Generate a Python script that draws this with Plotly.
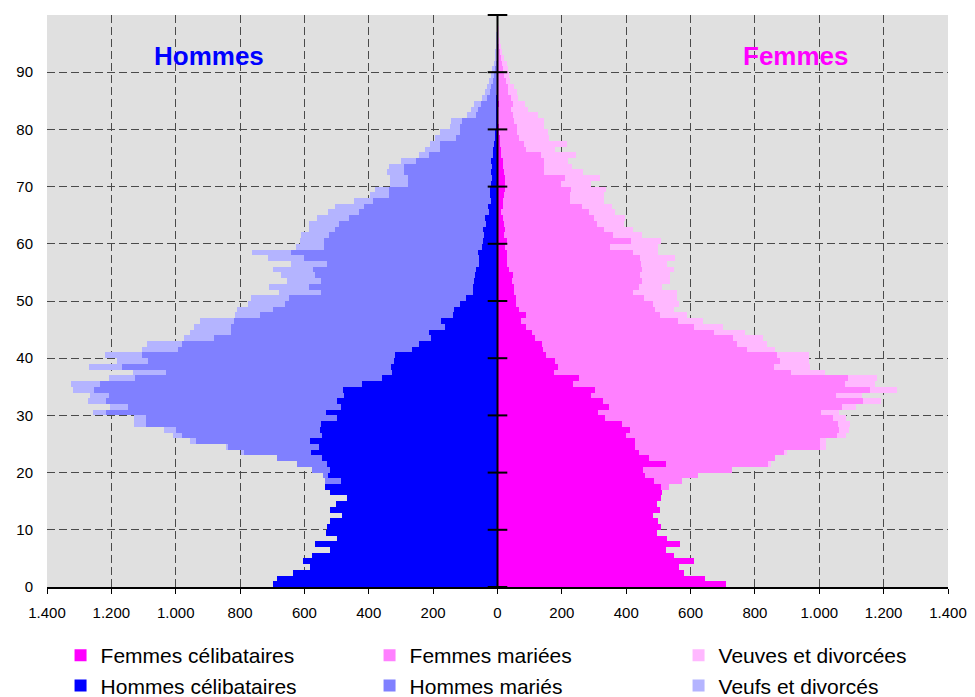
import plotly.graph_objects as go

AGES = list(range(100))

# Hommes (valeurs positives, tracées vers la gauche)
HOMMES_CELIB = [
    699, 686, 634, 584, 606, 578, 519, 568, 500, 534, 531, 522, 484, 522, 503, 469, 519, 537,
    487, 526, 520, 529, 544, 581, 556, 584, 544, 553, 550, 500, 534, 487, 500, 478, 481,
    422, 360, 329, 332, 323, 319, 267, 245, 207, 214, 164, 176, 139, 136, 117, 99,
    77, 77, 74, 71, 67, 58, 58, 61, 47, 46, 43, 46, 36, 39, 27, 30,
    21, 24, 24, 21, 18, 21, 18, 21, 15, 15, 11, 8, 8, 5, 5, 5, 5, 5, 5, 3, 3, 2, 2, 2,
    1, 1, 1, 0, 0, 0, 0, 0, 0,
]
HOMMES_MARIES = [
    0, 0, 0, 0, 0, 0, 0, 0, 0, 0, 0, 0, 0, 0, 0, 0, 0, 0,
    50, 15, 58, 93, 140, 208, 281, 352, 436, 445, 541, 591, 684, 662, 716, 730, 774,
    812, 765, 700, 834, 762, 787, 725, 737, 675, 613, 663, 644, 600, 563, 544, 548,
    473, 510, 476, 495, 507, 473, 544, 582, 491, 492, 482, 460, 457, 423, 404, 386,
    367, 314, 314, 258, 261, 271, 274, 233, 199, 165, 168, 121, 109, 112, 104, 62, 56, 47,
    28, 21, 18, 12, 10, 6, 4, 3, 2, 2, 1, 1, 0, 0, 0,
]
HOMMES_VEUFS = [
    0, 0, 0, 0, 0, 0, 0, 0, 0, 0, 0, 0, 0, 0, 0, 0, 0, 0,
    0, 0, 0, 0, 0, 9, 8, 19, 27, 37, 39, 39, 39, 54, 58, 59, 65,
    90, 81, 103, 103, 96, 115, 112, 106, 93, 128, 115, 106, 78, 112, 115, 118,
    128, 124, 103, 106, 124, 112, 112, 121, 88, 75, 87, 81, 93, 100, 96, 90,
    59, 59, 44, 56, 56, 50, 44, 47, 31, 44, 31, 65, 62, 31, 34, 28, 22, 21,
    16, 16, 12, 12, 9, 9, 3, 3, 2, 2, 1, 1, 1, 0, 0,
]

# Femmes
FEMMES_CELIB = [
    709, 644, 579, 563, 610, 548, 523, 566, 526, 495, 507, 498, 482, 504, 495, 507, 510, 507,
    485, 457, 451, 523, 470, 439, 426, 426, 398, 411, 386, 333, 311, 348, 327, 292, 302,
    236, 252, 177, 187, 180, 152, 140, 137, 118, 106, 90, 72, 87, 68, 56, 56,
    50, 50, 44, 47, 37, 31, 28, 28, 22, 28, 19, 22, 19, 16, 12, 16,
    16, 19, 24, 22, 22, 19, 16, 16, 12, 12, 9, 9, 6, 6, 3, 3, 3, 4,
    3, 3, 2, 2, 2, 1, 1, 1, 1, 0, 0, 0, 0, 0, 0,
]
FEMMES_MARIEES = [
    0, 0, 0, 0, 0, 0, 0, 0, 0, 0, 0, 0, 0, 0, 0, 0, 0, 25,
    87, 165, 277, 320, 392, 451, 576, 576, 656, 650, 672, 709, 694, 722, 809, 759, 856,
    843, 837, 734, 672, 697, 716, 635, 607, 613, 566, 520, 488, 417, 420, 426, 398,
    370, 389, 404, 395, 411, 414, 414, 392, 327, 386, 339, 308, 289, 283, 271, 246,
    208, 205, 205, 174, 187, 124, 128, 128, 124, 75, 72, 59, 56, 56, 47, 44, 40, 45,
    40, 31, 31, 25, 19, 16, 12, 10, 7, 5, 3, 2, 1, 0, 0,
]
FEMMES_VEUVES = [
    0, 0, 0, 0, 0, 0, 0, 0, 0, 0, 0, 0, 0, 0, 0, 0, 0, 0,
    0, 0, 0, 6, 0, 9, 19, 19, 28, 31, 37, 40, 56, 44, 56, 81, 84,
    93, 90, 106, 112, 90, 100, 87, 93, 93, 96, 90, 78, 84, 62, 81, 103,
    137, 72, 87, 93, 100, 81, 109, 78, 149, 93, 90, 90, 84, 96, 81, 93,
    106, 106, 109, 93, 109, 124, 87, 75, 109, 93, 134, 93, 96, 81, 93, 78, 53, 37,
    22, 28, 19, 12, 16, 16, 16, 8, 6, 5, 3, 2, 1, 1, 0,
]

X_TICKS = list(range(-1400, 1401, 200))
X_LABELS = [f"{abs(v):,}".replace(",", ".") for v in X_TICKS]
Y_TICKS = list(range(0, 101, 10))
Y_LABELS = [str(v) if v < 100 else "" for v in Y_TICKS]

FONT = "Liberation Sans, Arial, sans-serif"
GRID = "#4a4a4a"

series = [
    ("Femmes célibataires", FEMMES_CELIB, "#FF00FF", 1),
    ("Femmes mariées", FEMMES_MARIEES, "#FF80FF", 1),
    ("Veuves et divorcées", FEMMES_VEUVES, "#FFB8FF", 1),
    ("Hommes célibataires", HOMMES_CELIB, "#0000FF", -1),
    ("Hommes mariés", HOMMES_MARIES, "#8080FF", -1),
    ("Veufs et divorcés", HOMMES_VEUFS, "#B4B4FF", -1),
]

fig = go.Figure()
for name, vals, color, sign in series:
    fig.add_trace(go.Bar(
        x=[sign * v for v in vals], y=[a + 0.5 for a in AGES],
        orientation="h", width=1, name=name,
        marker=dict(color=color, line=dict(width=0)),
        customdata=vals,
        hovertemplate="%{customdata}<extra>" + name + "</extra>",
    ))

# petites graduations sur l'axe central
fig.add_trace(go.Scatter(
    x=[0] * len(Y_TICKS), y=Y_TICKS, mode="markers",
    marker=dict(symbol="line-ew", size=14, line=dict(color="black", width=2)),
    showlegend=False, hoverinfo="skip", cliponaxis=False,
))

fig.add_shape(type="line", x0=0, x1=0, y0=0, y1=100, xref="x", yref="y",
              line=dict(color="black", width=2))

fig.add_annotation(x=-898, y=92.8, xref="x", yref="y", text="<b>Hommes</b>",
                   showarrow=False, font=dict(color="#0000FF", size=26, family=FONT))
fig.add_annotation(x=928, y=92.8, xref="x", yref="y", text="<b>Femmes</b>",
                   showarrow=False, font=dict(color="#FF00FF", size=26, family=FONT))

fig.update_layout(
    width=975, height=697,
    margin=dict(l=47, r=27, t=15, b=110, autoexpand=False),
    paper_bgcolor="white",
    plot_bgcolor="#E0E0E0",
    barmode="relative", bargap=0,
    font=dict(family=FONT, size=15, color="black"),
    xaxis=dict(
        range=[-1400, 1400], tickvals=X_TICKS, ticktext=X_LABELS,
        showgrid=True, gridcolor=GRID, griddash="8px,4px", gridwidth=1,
        zeroline=False, showline=True, linecolor="black", linewidth=1.5,
        ticks="outside", ticklen=5, tickcolor="black", ticklabelstandoff=6,
        tickfont=dict(size=15),
    ),
    yaxis=dict(
        range=[0, 100], tickvals=Y_TICKS, ticktext=Y_LABELS,
        showgrid=True, gridcolor=GRID, griddash="8px,4px", gridwidth=1,
        zeroline=False, showline=False, ticks="", ticklabelstandoff=13,
        tickfont=dict(size=15),
    ),
    legend=dict(
        orientation="h", x=-0.0005, xanchor="left", y=-0.084, yanchor="top",
        entrywidth=250, entrywidthmode="pixels", indentation=14,
        font=dict(size=21), bgcolor="rgba(0,0,0,0)", traceorder="normal",
        tracegroupgap=0,
    ),
    showlegend=True,
)

# la page par défaut ajoute une marge de 8 px autour du graphique
fig.write_html("out.html", config={"displayModeBar": False},
               post_script="document.body.style.margin = '0';")
